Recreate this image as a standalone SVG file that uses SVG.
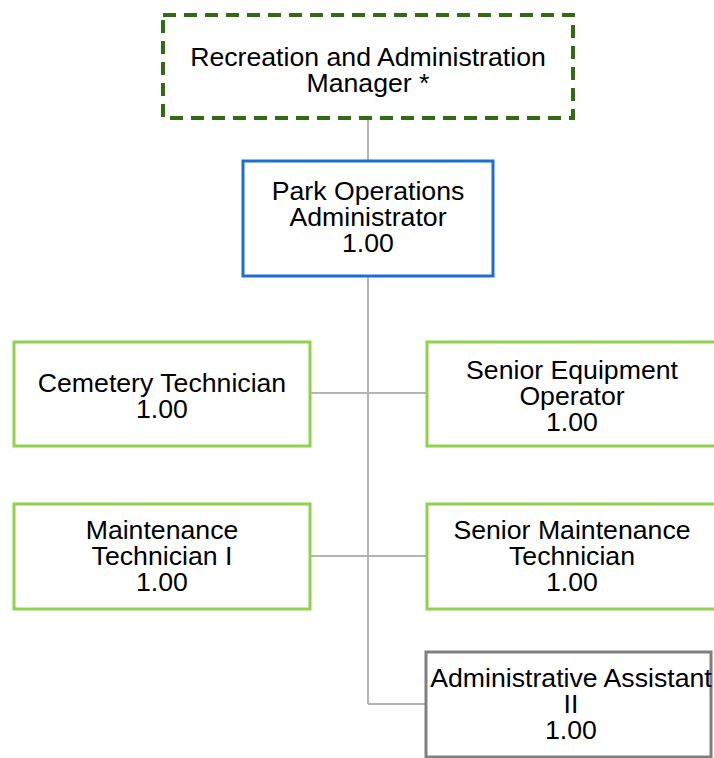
<svg xmlns="http://www.w3.org/2000/svg" width="714" height="758" viewBox="0 0 714 758">
  <style>
    .box { fill: #ffffff; stroke-width: 3; }
    .mgr { stroke: #336a14; stroke-width: 4; stroke-dasharray: 13 8; }
    .admin { stroke: #1a6fd1; }
    .staff { stroke: #92d050; }
    .support { stroke: #7f7f7f; }
    .link { fill: none; stroke: #b4b4b4; stroke-width: 2; }
    text { font-family: "Liberation Sans", Arial, sans-serif; font-size: 26.67px; fill: #000000; text-anchor: middle; }
  </style>

  <!-- reporting lines -->
  <g id="connectors">
    <line class="link" x1="368" y1="118" x2="368" y2="704"/>
    <line class="link" x1="310" y1="393" x2="427" y2="393"/>
    <line class="link" x1="310" y1="556" x2="427" y2="556"/>
    <line class="link" x1="368" y1="704" x2="426" y2="704"/>
  </g>

  <g id="recreation-admin-manager">
    <rect class="box mgr" x="163" y="15" width="410" height="103"/>
    <text x="368" y="66">Recreation and Administration</text>
    <text x="368" y="92">Manager *</text>
  </g>

  <g id="park-operations-administrator">
    <rect class="box admin" x="243" y="161" width="250" height="115"/>
    <text x="368" y="200">Park Operations</text>
    <text x="368" y="226">Administrator</text>
    <text x="368" y="252">1.00</text>
  </g>

  <g id="cemetery-technician">
    <rect class="box staff" x="14" y="342" width="296" height="104"/>
    <text x="162" y="392">Cemetery Technician</text>
    <text x="162" y="418">1.00</text>
  </g>

  <g id="senior-equipment-operator">
    <rect class="box staff" x="427" y="342" width="292" height="104"/>
    <text x="572" y="379">Senior Equipment</text>
    <text x="572" y="405">Operator</text>
    <text x="572" y="431">1.00</text>
  </g>

  <g id="maintenance-technician-i">
    <rect class="box staff" x="14" y="504" width="296" height="105"/>
    <text x="162" y="539">Maintenance</text>
    <text x="162" y="565">Technician I</text>
    <text x="162" y="591">1.00</text>
  </g>

  <g id="senior-maintenance-technician">
    <rect class="box staff" x="427" y="504" width="292" height="105"/>
    <text x="572" y="539">Senior Maintenance</text>
    <text x="572" y="565">Technician</text>
    <text x="572" y="591">1.00</text>
  </g>

  <g id="administrative-assistant-ii">
    <rect class="box support" x="426" y="652" width="285" height="105"/>
    <text x="571" y="687">Administrative Assistant</text>
    <text x="571" y="713">II</text>
    <text x="571" y="739">1.00</text>
  </g>
</svg>
